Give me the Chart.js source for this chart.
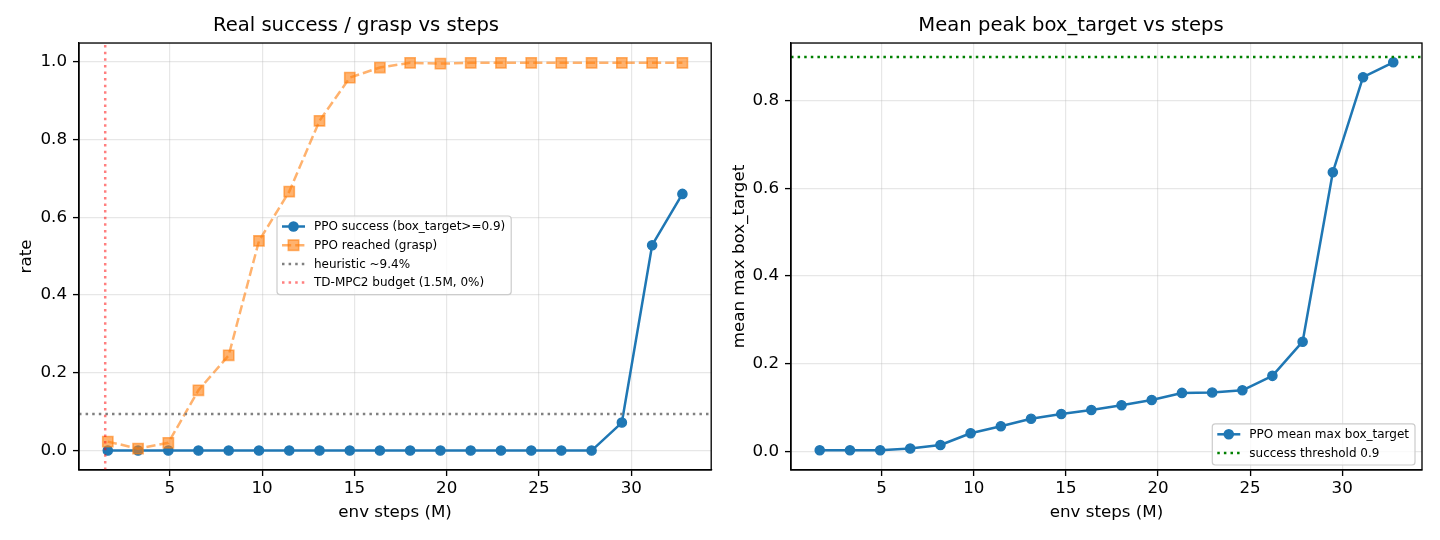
<!DOCTYPE html>
<html>
<head>
<meta charset="utf-8">
<script src="https://cdn.jsdelivr.net/npm/chart.js@4.4.1/dist/chart.umd.min.js"></script>
<style>
  body { margin: 0; background: #fff; }
  #wrap { position: relative; width: 1440px; height: 540px; }
  canvas { position: absolute; top: 0; }
</style>
</head>
<body>
<div id="wrap">
  <canvas id="leftChart" width="720" height="540" style="left:0"></canvas>
  <canvas id="rightChart" width="720" height="540" style="left:720px"></canvas>
</div>
<script>
// DATA
const steps = [1.64, 3.28, 4.92, 6.55, 8.19, 9.83, 11.47, 13.11, 14.75, 16.38,
               18.02, 19.66, 21.30, 22.94, 24.58, 26.21, 27.85, 29.49, 31.13, 32.77];
const successRate = [0, 0, 0, 0, 0, 0, 0, 0, 0, 0,
                     0, 0, 0, 0, 0, 0, 0, 0.072, 0.528, 0.66];
const reachedRate = [0.023, 0.005, 0.02, 0.155, 0.245, 0.539, 0.666, 0.848, 0.959, 0.985,
                     0.997, 0.995, 0.997, 0.997, 0.997, 0.997, 0.997, 0.997, 0.997, 0.997];
const meanMaxBox = [0.002, 0.002, 0.002, 0.006, 0.014, 0.041, 0.057, 0.074, 0.085, 0.094,
                    0.105, 0.117, 0.133, 0.134, 0.139, 0.172, 0.25, 0.637, 0.854, 0.888];
const heuristicRate = 0.094;
const tdmpcBudget = 1.5;
const successThreshold = 0.9;

const xTicks = [5, 10, 15, 20, 25, 30];
const leftYTicks = [0, 0.2, 0.4, 0.6, 0.8, 1.0];
const rightYTicks = [0, 0.2, 0.4, 0.6, 0.8];

// axis limits (matplotlib autoscale margins)
const X_MIN = 0.08, X_MAX = 34.33;
const LEFT_Y_MIN = -0.05, LEFT_Y_MAX = 1.048;
const RIGHT_Y_MIN = -0.043, RIGHT_Y_MAX = 0.932;

// STYLE
const BLUE = '#1f77b4';
const ORANGE_A = 'rgba(255,127,14,0.6)';
const GRAY = '#808080';
const RED_A = 'rgba(255,0,0,0.5)';
const GREEN = '#008000';
const GRID = 'rgba(176,176,176,0.3)';
const FONT = "'DejaVu Sans', sans-serif";
const LW = 2.5;
const DOTS = [2.5, 4.1];
const DASH = [9.2, 4];
const TICK_FS = 16.7;

Chart.defaults.font.family = FONT;
Chart.defaults.color = '#000';

function toPoints(xs, ys) {
  return xs.map((x, i) => ({ x: x, y: ys[i] }));
}

// box round the plot area, like matplotlib spines
const framePlugin = {
  id: 'frame',
  afterDatasetsDraw(chart) {
    const { ctx, chartArea: a } = chart;
    ctx.save();
    ctx.strokeStyle = '#000';
    ctx.lineWidth = 1.33;
    ctx.strokeRect(a.left, a.top, a.right - a.left, a.bottom - a.top);
    ctx.restore();
  }
};

// matplotlib looking legend
const legendPlugin = {
  id: 'mplLegend',
  afterDraw(chart, args, opts) {
    if (!opts || !opts.items) return;
    const ctx = chart.ctx, a = chart.chartArea;
    const fs = 12, rowH = 18.7, hl = 23;
    ctx.save();
    ctx.font = fs + 'px ' + FONT;
    const tw = Math.max(...opts.items.map(it => ctx.measureText(it.text).width));
    const w = 5 + hl + 9 + tw + 6;
    const h = 10.5 + (opts.items.length - 1) * rowH + 12;
    let left, top;
    if (opts.anchor === 'lowerRight') {
      left = a.right - opts.dx - w;
      top = a.bottom - opts.dy - h;
    } else {
      left = opts.left;
      top = opts.top;
    }
    ctx.beginPath();
    ctx.roundRect(left, top, w, h, 3);
    ctx.fillStyle = 'rgba(255,255,255,0.8)';
    ctx.fill();
    ctx.strokeStyle = '#cccccc';
    ctx.lineWidth = 1.2;
    ctx.stroke();

    opts.items.forEach((it, i) => {
      const cy = top + 10.5 + i * rowH;
      const x0 = left + 5, x1 = x0 + hl, cx = (x0 + x1) / 2;
      ctx.save();
      ctx.strokeStyle = it.color;
      ctx.lineWidth = LW;
      ctx.setLineDash(it.dash || []);
      ctx.beginPath();
      ctx.moveTo(x0, cy);
      ctx.lineTo(x1, cy);
      ctx.stroke();
      ctx.setLineDash([]);
      if (it.marker === 'circle') {
        ctx.beginPath();
        ctx.arc(cx, cy, 5.3, 0, Math.PI * 2);
        ctx.fillStyle = it.color;
        ctx.fill();
      } else if (it.marker === 'rect') {
        ctx.fillStyle = it.color;
        ctx.fillRect(cx - 5.2, cy - 5.2, 10.4, 10.4);
        ctx.lineWidth = 1.6;
        ctx.strokeRect(cx - 5.2, cy - 5.2, 10.4, 10.4);
      }
      ctx.restore();
      ctx.fillStyle = '#000';
      ctx.textBaseline = 'middle';
      ctx.textAlign = 'left';
      ctx.fillText(it.text, x1 + 9, cy + 0.5);
    });
    ctx.restore();
  }
};

function xScale() {
  return {
    type: 'linear', min: X_MIN, max: X_MAX,
    afterBuildTicks: s => { s.ticks = xTicks.map(v => ({ value: v })); },
    afterFit: s => { s.height = 70; },
    ticks: { font: { size: TICK_FS }, color: '#000', padding: 3, maxRotation: 0, callback: v => String(v) },
    grid: { color: GRID, lineWidth: 1.2, tickColor: '#000', tickLength: 6, tickWidth: 1.33 },
    border: { color: '#000', width: 1.33 },
    title: { display: true, text: 'env steps (M)', font: { size: TICK_FS }, color: '#000', padding: { top: 0, bottom: 17.5 } }
  };
}

function yScale(min, max, ticks, width, label, titlePad) {
  return {
    type: 'linear', min: min, max: max,
    afterBuildTicks: s => { s.ticks = ticks.map(v => ({ value: v })); },
    afterFit: s => { s.width = width; },
    ticks: { font: { size: TICK_FS }, color: '#000', padding: 6, callback: v => v.toFixed(1) },
    grid: { color: GRID, lineWidth: 1.2, tickColor: '#000', tickLength: 6, tickWidth: 1.33 },
    border: { color: '#000', width: 1.33 },
    title: { display: true, text: label, font: { size: TICK_FS }, color: '#000', padding: { top: titlePad, bottom: 0 } }
  };
}

function chartTitle(text) {
  return { display: true, text: text, font: { size: 19.6, weight: 'normal' }, color: '#000',
           padding: { top: 14, bottom: 5.5 } };
}

// LEFT CHART
new Chart(document.getElementById('leftChart'), {
  type: 'line',
  data: {
    datasets: [
      { label: 'PPO success (box_target>=0.9)', data: toPoints(steps, successRate),
        borderColor: BLUE, backgroundColor: BLUE, borderWidth: LW, borderJoinStyle: 'round',
        pointStyle: 'circle', pointRadius: 4.6, pointBorderWidth: 1.4, order: 4 },
      { label: 'PPO reached (grasp)', data: toPoints(steps, reachedRate),
        borderColor: ORANGE_A, backgroundColor: ORANGE_A, borderWidth: LW, borderDash: DASH,
        pointStyle: 'rect', pointRadius: 7.2, pointBorderWidth: 1.6, order: 3 },
      { label: 'heuristic ~9.4%', data: [{ x: X_MIN, y: heuristicRate }, { x: X_MAX, y: heuristicRate }],
        borderColor: GRAY, borderWidth: LW, borderDash: DOTS, pointRadius: 0, order: 2 },
      { label: 'TD-MPC2 budget (1.5M, 0%)', data: [{ x: tdmpcBudget, y: LEFT_Y_MIN }, { x: tdmpcBudget, y: LEFT_Y_MAX }],
        borderColor: RED_A, borderWidth: LW, borderDash: DOTS, pointRadius: 0, order: 1 }
    ]
  },
  options: {
    responsive: false, animation: false,
    layout: { padding: { left: 0, right: 8, top: 0, bottom: 0 } },
    scales: {
      x: xScale(),
      y: yScale(LEFT_Y_MIN, LEFT_Y_MAX, leftYTicks, 79, 'rate', 16.5)
    },
    plugins: {
      legend: { display: false },
      tooltip: { enabled: false },
      title: chartTitle('Real success / grasp vs steps'),
      mplLegend: {
        left: 277, top: 216,
        items: [
          { text: 'PPO success (box_target>=0.9)', color: BLUE, marker: 'circle' },
          { text: 'PPO reached (grasp)', color: ORANGE_A, dash: DASH, marker: 'rect' },
          { text: 'heuristic ~9.4%', color: GRAY, dash: DOTS },
          { text: 'TD-MPC2 budget (1.5M, 0%)', color: RED_A, dash: DOTS }
        ]
      }
    }
  },
  plugins: [framePlugin, legendPlugin]
});

// RIGHT CHART
new Chart(document.getElementById('rightChart'), {
  type: 'line',
  data: {
    datasets: [
      { label: 'PPO mean max box_target', data: toPoints(steps, meanMaxBox),
        borderColor: BLUE, backgroundColor: BLUE, borderWidth: LW, borderJoinStyle: 'round',
        pointStyle: 'circle', pointRadius: 4.6, pointBorderWidth: 1.4, order: 2 },
      { label: 'success threshold 0.9', data: [{ x: X_MIN, y: successThreshold }, { x: X_MAX, y: successThreshold }],
        borderColor: GREEN, borderWidth: LW, borderDash: DOTS, pointRadius: 0, order: 1 }
    ]
  },
  options: {
    responsive: false, animation: false,
    layout: { padding: { left: 0, right: 18, top: 0, bottom: 0 } },
    scales: {
      x: xScale(),
      y: yScale(RIGHT_Y_MIN, RIGHT_Y_MAX, rightYTicks, 71, 'mean max box_target', 9.5)
    },
    plugins: {
      legend: { display: false },
      tooltip: { enabled: false },
      title: chartTitle('Mean peak box_target vs steps'),
      mplLegend: {
        anchor: 'lowerRight', dx: 7, dy: 5,
        items: [
          { text: 'PPO mean max box_target', color: BLUE, marker: 'circle' },
          { text: 'success threshold 0.9', color: GREEN, dash: DOTS }
        ]
      }
    }
  },
  plugins: [framePlugin, legendPlugin]
});
</script>
</body>
</html>
